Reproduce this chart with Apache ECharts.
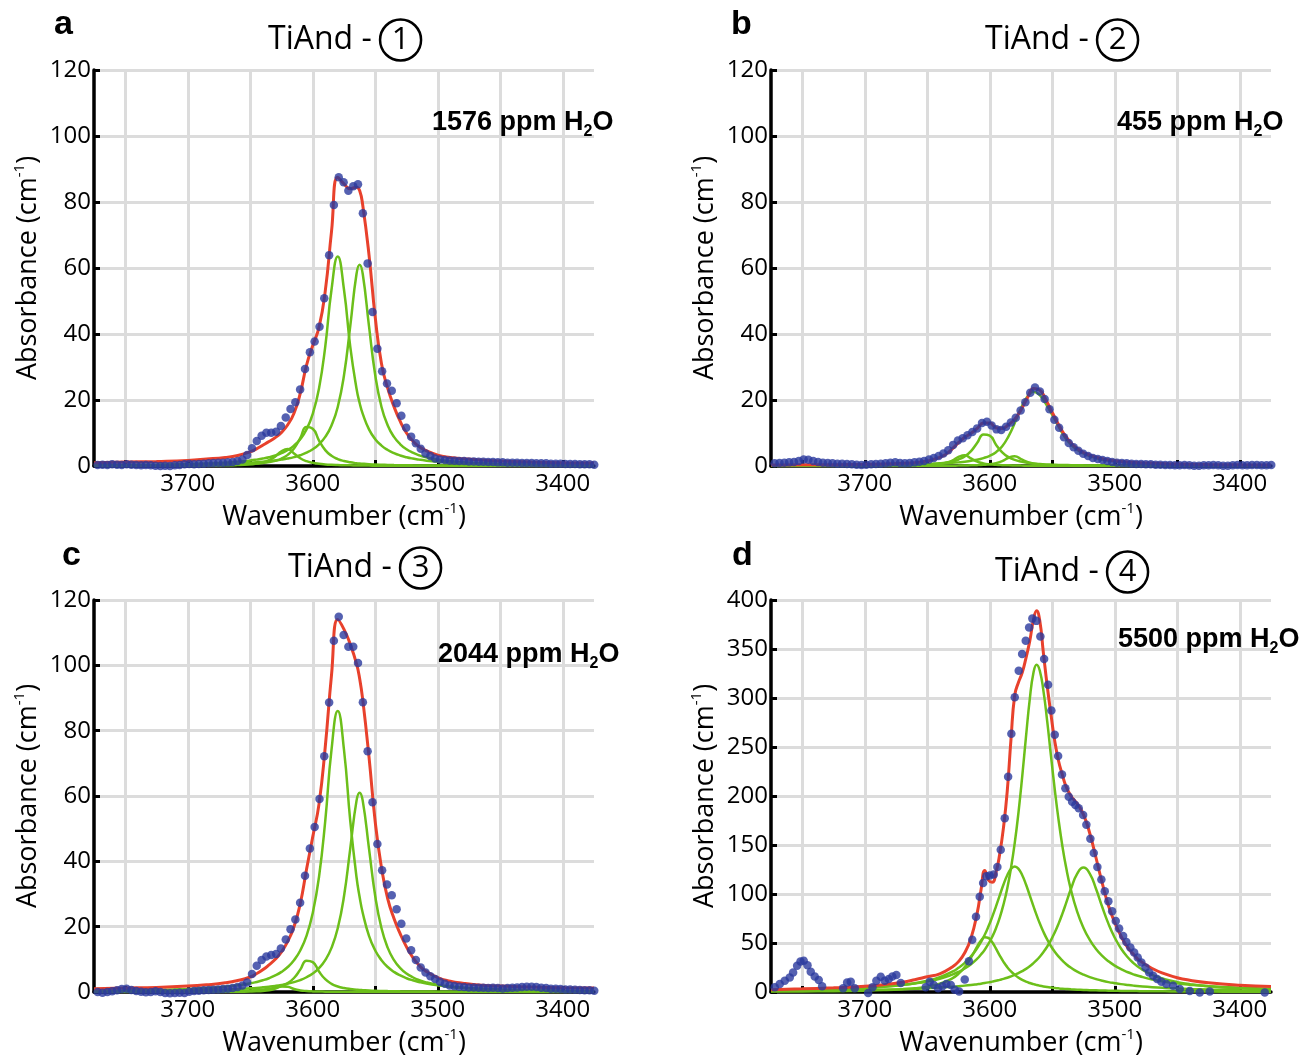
<!DOCTYPE html>
<html><head><meta charset="utf-8">
<script src="https://cdn.jsdelivr.net/npm/echarts@6/dist/echarts.min.js"></script>
<style>html,body{margin:0;padding:0;background:#fff}#c{width:1309px;height:1060px}</style>
</head><body><div id="c"></div>
<script>
// ---------------- DATA ----------------
const panelTitles = ['1', '2', '3', '4'];
const panelLetters = ['a', 'b', 'c', 'd'];
const waterLabels = ['1576', '455', '2044', '5500'];
const xTickValues = [3750, 3700, 3650, 3600, 3550, 3500, 3450, 3400];
const xLabelValues = [3700, 3600, 3500, 3400];

// measured data points (blue dots), panels a, b, c share wavenumbers
const dotWn = [3772.1, 3768.2, 3764.3, 3760.5, 3756.6, 3752.8, 3748.9, 3745.1, 3741.2, 3737.3, 3733.5, 3729.6, 3725.8, 3721.9, 3718.1, 3714.2, 3710.3, 3706.5, 3702.6, 3698.8, 3694.9, 3691.1, 3687.2, 3683.3, 3679.5, 3675.6, 3671.8, 3667.9, 3664.1, 3660.2, 3656.3, 3652.5, 3648.6, 3644.8, 3640.9, 3637.1, 3633.2, 3629.3, 3625.5, 3621.6, 3617.8, 3613.9, 3610.1, 3606.2, 3602.3, 3598.5, 3594.6, 3590.8, 3586.9, 3583.1, 3579.2, 3575.3, 3571.5, 3567.6, 3563.8, 3559.9, 3556.1, 3552.2, 3548.3, 3544.5, 3540.6, 3536.8, 3532.9, 3529.1, 3525.2, 3521.3, 3517.5, 3513.6, 3509.8, 3505.9, 3502.1, 3498.2, 3494.3, 3490.5, 3486.6, 3482.8, 3478.9, 3475.1, 3471.2, 3467.3, 3463.5, 3459.6, 3455.8, 3451.9, 3448.1, 3444.2, 3440.3, 3436.5, 3432.6, 3428.8, 3424.9, 3421.1, 3417.2, 3413.3, 3409.5, 3405.6, 3401.8, 3397.9, 3394.1, 3390.2, 3386.3, 3382.5, 3378.6, 3374.8];
const dotsA = [0.3, 0.4, 0.3, 0.5, 0.4, 0.3, 0.5, 0.4, 0.3, 0.2, 0.3, 0.2, 0.1, 0.0, 0.1, 0.0, 0.2, 0.3, 0.5, 0.6, 0.5, 0.6, 0.7, 0.8, 0.9, 1.0, 1.0, 1.1, 1.2, 1.5, 2.0, 3.3, 5.4, 7.6, 9.2, 10.1, 10.1, 10.4, 12.1, 14.7, 17.3, 19.3, 23.2, 29.4, 34.5, 37.7, 42.2, 50.8, 63.9, 79.1, 87.5, 86.0, 83.4, 84.8, 85.4, 76.6, 61.4, 46.7, 35.5, 28.7, 25.0, 22.8, 19.0, 15.2, 11.6, 8.9, 6.9, 5.2, 3.8, 3.0, 2.3, 2.0, 1.8, 1.7, 1.6, 1.5, 1.5, 1.4, 1.4, 1.3, 1.3, 1.2, 1.2, 1.1, 1.1, 1.0, 1.0, 1.0, 0.9, 0.9, 0.9, 0.8, 0.8, 0.8, 0.7, 0.7, 0.7, 0.6, 0.6, 0.6, 0.5, 0.5, 0.5, 0.4];
const dotsB = [0.8, 0.9, 1.0, 1.1, 1.2, 1.5, 2.0, 1.9, 1.5, 1.2, 1.0, 0.9, 0.8, 0.7, 0.7, 0.6, 0.5, 0.4, 0.3, 0.4, 0.5, 0.6, 0.7, 0.8, 1.0, 1.1, 0.9, 0.8, 0.9, 1.1, 1.3, 1.5, 2.0, 2.4, 3.0, 3.8, 4.8, 6.4, 7.7, 8.4, 9.3, 10.3, 11.4, 13.0, 13.4, 12.3, 11.1, 10.9, 11.9, 13.2, 14.6, 16.8, 19.3, 22.2, 23.8, 22.6, 20.3, 17.2, 14.0, 11.6, 8.7, 7.0, 5.7, 4.6, 3.7, 3.0, 2.4, 2.1, 1.8, 1.5, 1.2, 1.0, 0.9, 0.8, 0.7, 0.6, 0.6, 0.5, 0.5, 0.4, 0.4, 0.3, 0.3, 0.2, 0.2, 0.3, 0.2, 0.1, 0.1, 0.2, 0.2, 0.3, 0.2, 0.1, 0.1, 0.2, 0.3, 0.2, 0.2, 0.3, 0.3, 0.2, 0.2, 0.3];
const dotsC = [0.0, -0.2, 0.0, 0.2, 0.5, 0.9, 1.0, 0.6, 0.3, 0.1, -0.1, 0.0, 0.2, 0.0, -0.3, -0.4, -0.3, -0.2, -0.3, 0.1, 0.3, 0.4, 0.5, 0.6, 0.7, 0.8, 0.9, 1.0, 1.2, 1.5, 2.0, 2.9, 5.5, 8.0, 9.8, 10.9, 11.3, 11.6, 13.3, 16.1, 19.2, 22.2, 27.3, 35.6, 43.9, 50.5, 59.1, 72.2, 88.6, 107.5, 114.9, 109.3, 105.7, 105.7, 100.7, 88.7, 73.7, 58.1, 45.3, 37.3, 32.9, 29.6, 25.3, 20.9, 16.4, 12.8, 9.8, 7.5, 6.0, 4.8, 4.0, 3.1, 2.5, 2.0, 1.8, 1.6, 1.5, 1.4, 1.4, 1.3, 1.3, 1.2, 1.3, 1.2, 1.1, 1.2, 1.3, 1.4, 1.5, 1.6, 1.6, 1.5, 1.3, 1.2, 1.0, 1.0, 0.9, 0.8, 0.8, 0.7, 0.6, 0.5, 0.5, 0.4];
const dotWnD = [3772, 3768, 3764, 3760, 3757.3, 3754.1, 3751.4, 3748.8, 3745.8, 3743.2, 3740, 3736.8, 3734.1, 3717.3, 3714.1, 3711.2, 3708, 3697.3, 3693.8, 3690.7, 3687.2, 3684, 3680.8, 3677.9, 3674.7, 3671.2, 3651.2, 3648, 3644.8, 3641.3, 3637.9, 3634.7, 3631.2, 3628, 3624.5, 3620, 3616.7, 3614, 3611, 3608, 3605.3, 3602.7, 3600, 3596.8, 3593.9, 3591.2, 3588, 3585.3, 3582.7, 3580, 3576.8, 3574.1, 3571.2, 3568.5, 3565.9, 3562.7, 3559.5, 3556.5, 3553.3, 3550.7, 3548, 3545.3, 3542.2, 3539.5, 3536.8, 3534.1, 3531.5, 3528.8, 3525.3, 3522.7, 3519.5, 3516.8, 3513.9, 3510.7, 3508, 3505.1, 3502.1, 3499.2, 3496.5, 3493.3, 3490.7, 3487.5, 3484.5, 3481.6, 3478.7, 3475.4, 3472.5, 3469.3, 3466.1, 3462.7, 3458.7, 3453.3, 3448, 3440, 3432, 3424, 3380];
const dotsD = [4.8, 8.1, 11.5, 14.9, 20, 26.7, 31.2, 31.8, 27.4, 20.6, 15.9, 12.2, 5.8, 3.8, 9.8, 10.5, 3.8, -1, 4.8, 11.5, 15.6, 11.5, 13.2, 15.9, 17.3, 9.1, 4.8, 10.5, 7.1, 3.8, 5.8, 8.1, 7.1, 2.3, 0.5, 12.8, 31.3, 53.4, 76.7, 97.1, 111.3, 118.1, 118.8, 119.8, 127.6, 145.2, 177.3, 219.6, 263.6, 300.8, 327.9, 344.9, 358.4, 371.9, 381, 378.7, 362.8, 339.8, 313.4, 287.3, 262.6, 240.9, 222, 207.8, 199.3, 194.2, 190.9, 187.5, 180.7, 170.6, 156.3, 141.8, 127.6, 114.7, 102.8, 92.7, 82.5, 72.4, 64.7, 57.2, 51.1, 45.4, 40.3, 35.2, 30.2, 25.1, 20, 16.5, 13.2, 10.5, 8.1, 6.4, 3, 1, -0.5, 0.5, -0.5];

// fitted curves (red) and component bands (green), read at these wavenumbers
const curveWnAC = [3775, 3750, 3725, 3700, 3685, 3670, 3660, 3650, 3645, 3640, 3635, 3630, 3625, 3620, 3615, 3610, 3605, 3600, 3595, 3590, 3585, 3580, 3575, 3570, 3565, 3562.5, 3560, 3555, 3550, 3545, 3540, 3535, 3530, 3525, 3520, 3515, 3510, 3500, 3490, 3480, 3465, 3450, 3425, 3400, 3375];
const fitA = [1.0, 1.2, 1.4, 1.7, 2.1, 2.6, 3.2, 4.3, 5.2, 6.3, 7.4, 8.6, 10.2, 12.5, 16.0, 22.0, 30.5, 36.5, 42.0, 53.0, 71.0, 87.5, 85.5, 84.0, 84.5, 83.5, 79.0, 64.0, 45.0, 31.0, 23.5, 18.0, 13.5, 10.0, 7.6, 5.9, 4.8, 3.3, 2.6, 2.2, 1.8, 1.5, 1.2, 1.0, 0.9];
const bandA1 = [0.22, 0.29, 0.40, 0.58, 0.75, 1.02, 1.29, 1.67, 1.93, 2.25, 2.66, 3.19, 3.90, 4.85, 6.19, 8.13, 11.1, 15.8, 23.5, 36.2, 53.4, 63.5, 53.4, 36.2, 23.5, 19.1, 15.8, 11.1, 8.13, 6.19, 4.85, 3.90, 3.19, 2.66, 2.25, 1.93, 1.67, 1.29, 1.02, 0.83, 0.63, 0.49, 0.35, 0.26, 0.20];
const bandA2 = [0.17, 0.22, 0.29, 0.41, 0.51, 0.67, 0.81, 1.00, 1.12, 1.27, 1.45, 1.66, 1.93, 2.27, 2.70, 3.26, 4.04, 5.08, 6.58, 8.81, 12.3, 17.9, 27.5, 42.4, 58.2, 61, 58.2, 42.4, 27.5, 17.9, 12.3, 8.81, 6.58, 5.08, 4.04, 3.26, 2.70, 1.93, 1.45, 1.12, 0.81, 0.61, 0.41, 0.29, 0.22];
const bandA3 = [0.05, 0.06, 0.09, 0.14, 0.20, 0.29, 0.40, 0.58, 0.72, 0.91, 1.19, 1.60, 2.26, 3.37, 5.28, 8.45, 11.8, 11.3, 7.72, 4.82, 3.10, 2.10, 1.50, 1.12, 0.87, 0.77, 0.69, 0.56, 0.46, 0.39, 0.33, 0.28, 0.25, 0.22, 0.19, 0.17, 0.15, 0.13, 0.10, 0.09, 0.07, 0.06, 0.04, 0.03, 0.03];
const bandA4 = [0.02, 0.03, 0.05, 0.08, 0.12, 0.21, 0.32, 0.55, 0.77, 1.13, 1.76, 2.87, 4.48, 5.15, 3.82, 2.35, 1.46, 0.96, 0.67, 0.49, 0.37, 0.29, 0.23, 0.19, 0.16, 0.15, 0.14, 0.12, 0.10, 0.09, 0.08, 0.07, 0.06, 0.06, 0.05, 0.05, 0.04, 0.04, 0.03, 0.03, 0.02, 0.02, 0.02, 0.01, 0.01];

const fitC = [1.0, 1.2, 1.4, 1.8, 2.2, 2.8, 3.5, 4.6, 5.6, 6.8, 8.3, 10.0, 12.3, 15.5, 20.0, 27.0, 37.5, 47.5, 57.5, 75.0, 97.0, 114.0, 111.0, 106.5, 100.5, 96.0, 89.5, 72.0, 52.0, 38.0, 28.5, 22.5, 17.8, 13.8, 10.6, 8.2, 6.5, 4.4, 3.3, 2.7, 2.1, 1.8, 1.5, 1.3, 1.2];
const bandC1 = [0.35, 0.46, 0.63, 0.92, 1.20, 1.63, 2.05, 2.65, 3.07, 3.58, 4.22, 5.06, 6.16, 7.65, 9.73, 12.7, 17.2, 24.2, 35.2, 52.4, 74.1, 86, 74.1, 52.4, 35.2, 29.1, 24.2, 17.2, 12.7, 9.73, 7.65, 6.16, 5.06, 4.22, 3.58, 3.07, 2.65, 2.05, 1.63, 1.32, 1.00, 0.79, 0.56, 0.41, 0.32];
const bandC2 = [0.19, 0.25, 0.33, 0.46, 0.58, 0.75, 0.91, 1.13, 1.26, 1.43, 1.63, 1.87, 2.17, 2.54, 3.03, 3.65, 4.52, 5.67, 7.32, 9.76, 13.5, 19.5, 29.3, 43.9, 58.5, 61, 58.5, 43.9, 29.3, 19.5, 13.5, 9.76, 7.32, 5.67, 4.52, 3.65, 3.03, 2.17, 1.63, 1.26, 0.91, 0.69, 0.46, 0.33, 0.25];
const bandC3 = [0.04, 0.05, 0.07, 0.11, 0.16, 0.24, 0.32, 0.47, 0.58, 0.74, 0.97, 1.30, 1.83, 2.73, 4.28, 6.85, 9.57, 9.16, 6.26, 3.91, 2.51, 1.70, 1.22, 0.91, 0.71, 0.62, 0.56, 0.45, 0.37, 0.32, 0.27, 0.23, 0.20, 0.18, 0.15, 0.14, 0.12, 0.11, 0.08, 0.07, 0.06, 0.05, 0.03, 0.02, 0.02];
const bandC4 = [0.01, 0.01, 0.01, 0.02, 0.03, 0.05, 0.08, 0.15, 0.21, 0.33, 0.55, 1.02, 1.69, 1.58, 0.90, 0.49, 0.30, 0.19, 0.14, 0.10, 0.08, 0.06, 0.05, 0.04, 0.03, 0.03, 0.03, 0.02, 0.02, 0.02, 0.02, 0.01, 0.01, 0.01, 0.01, 0.01, 0.01, 0.01, 0.01, 0.01, 0.01, 0.01, 0, 0, 0];

const curveWnB = [3775, 3750, 3725, 3700, 3685, 3670, 3660, 3650, 3645, 3640, 3635, 3630, 3625, 3620, 3615, 3610, 3605, 3600, 3595, 3590, 3585, 3580, 3575, 3570, 3565, 3560, 3555, 3550, 3545, 3540, 3535, 3530, 3525, 3520, 3515, 3510, 3500, 3490, 3480, 3465, 3450, 3425, 3400, 3375];
const fitB = [0.3, 0.35, 0.4, 0.5, 0.6, 0.8, 1.0, 1.5, 2.0, 2.6, 3.6, 5.2, 7.1, 8.7, 9.9, 11.4, 13.0, 13.0, 11.6, 11.4, 12.5, 14.2, 17.0, 20.5, 23.5, 23.0, 20.0, 16.2, 12.6, 9.4, 7.0, 5.3, 4.1, 3.3, 2.7, 2.2, 1.6, 1.2, 1.0, 0.8, 0.6, 0.45, 0.35, 0.3];
const bandB1 = [0.12, 0.15, 0.2, 0.25, 0.3, 0.4, 0.5, 0.6, 0.65, 0.75, 0.85, 0.95, 1.1, 1.3, 1.6, 1.9, 2.4, 3.1, 4.2, 6.0, 9.0, 13.0, 17.5, 21.0, 22.5, 21.5, 18.8, 15.5, 12.0, 8.8, 6.5, 4.9, 3.8, 3.0, 2.4, 2.0, 1.4, 1.05, 0.8, 0.6, 0.45, 0.3, 0.22, 0.17];
const bandB2 = [0.04, 0.06, 0.08, 0.13, 0.17, 0.26, 0.35, 0.51, 0.63, 0.80, 1.05, 1.41, 1.98, 2.92, 4.52, 7.05, 9.58, 9.22, 6.47, 4.13, 2.69, 1.84, 1.32, 0.99, 0.77, 0.61, 0.49, 0.41, 0.34, 0.29, 0.25, 0.22, 0.19, 0.17, 0.15, 0.14, 0.11, 0.09, 0.08, 0.06, 0.05, 0.03, 0.03, 0.02];
const bandB3 = [0.01, 0.02, 0.02, 0.04, 0.06, 0.11, 0.17, 0.29, 0.41, 0.60, 0.96, 1.65, 2.75, 3.26, 2.29, 1.32, 0.79, 0.51, 0.35, 0.26, 0.19, 0.15, 0.12, 0.10, 0.08, 0.07, 0.06, 0.05, 0.05, 0.04, 0.04, 0.03, 0.03, 0.03, 0.03, 0.02, 0.02, 0.02, 0.02, 0.01, 0.01, 0.01, 0.01, 0.01];
const bandB4 = [0.01, 0.01, 0.01, 0.02, 0.02, 0.03, 0.04, 0.05, 0.06, 0.07, 0.08, 0.10, 0.12, 0.15, 0.20, 0.26, 0.37, 0.55, 0.88, 1.50, 2.50, 2.96, 2.08, 1.20, 0.72, 0.47, 0.32, 0.24, 0.18, 0.14, 0.11, 0.09, 0.08, 0.07, 0.06, 0.05, 0.04, 0.03, 0.03, 0.02, 0.02, 0.01, 0.01, 0.01];

const curveWnD = [3775, 3750, 3725, 3700, 3685, 3670, 3660, 3650, 3640, 3630, 3625, 3620, 3615, 3610, 3607, 3604, 3601, 3598, 3595, 3592, 3589, 3586, 3583, 3580, 3577, 3574, 3571, 3568, 3565, 3562.5, 3560, 3557, 3554, 3551, 3548, 3545, 3542, 3539, 3535, 3530, 3525, 3520, 3515, 3510, 3505, 3500, 3495, 3490, 3485, 3480, 3470, 3460, 3450, 3440, 3425, 3400, 3375];
const fitD = [2.3, 3.2, 4.3, 5.8, 7.5, 10, 12.5, 15.5, 18.5, 25.5, 31, 40, 55, 81, 104, 124, 114, 112, 122, 141, 168, 205, 258, 303, 316, 326, 341, 358, 380, 389, 379, 345, 312, 283, 256, 236, 222, 210, 200, 192, 181, 162, 137, 111, 88, 71, 57, 46, 38.5, 32, 24, 18.5, 14.5, 12, 9.5, 7, 5.5];
const bandD1 = [1.88, 2.41, 3.21, 4.46, 5.60, 7.24, 8.77, 10.8, 13.6, 17.8, 20.5, 24.0, 28.4, 34.0, 38.3, 43.2, 49.2, 56.4, 65.1, 75.9, 89.3, 105.7, 126.5, 152.1, 183.4, 220.2, 260.5, 298.7, 326, 334, 328, 306.8, 275.8, 240.8, 206.8, 176.2, 149.8, 127.7, 104, 81.7, 65.4, 53.2, 43.9, 36.9, 31.3, 26.9, 23.3, 20.4, 18.0, 16.0, 12.8, 10.5, 8.8, 7.4, 5.9, 4.3, 3.2];
const bandD2 = [1.61, 2.11, 2.88, 4.16, 5.38, 7.23, 9.01, 11.5, 15.2, 20.7, 24.7, 29.7, 36.3, 44.8, 51.1, 58.4, 67.0, 76.7, 87.4, 98.6, 109.7, 119.1, 125.7, 128, 125.7, 119.1, 109.7, 98.6, 87.4, 78.4, 70.1, 61.2, 53.4, 46.7, 41.1, 36.3, 32.2, 28.6, 24.7, 20.7, 17.7, 15.2, 13.2, 11.5, 10.1, 9.01, 8.04, 7.23, 6.51, 5.91, 4.92, 4.16, 3.57, 3.08, 2.53, 1.89, 1.46];
const bandD3 = [1.0, 1.2, 1.5, 2.0, 2.4, 2.9, 3.3, 3.8, 4.5, 5.3, 5.9, 6.5, 7.2, 8.0, 8.5, 9.1, 9.8, 10.6, 11.4, 12.4, 13.4, 14.6, 16.0, 17.5, 19.3, 21.3, 23.6, 26.3, 29.5, 32.5, 36.0, 40.8, 46.4, 53.0, 60.7, 69.5, 79.5, 90.4, 105.3, 120.8, 127, 120.8, 105.3, 86.7, 69.5, 55.4, 44.4, 36.0, 29.5, 24.5, 17.5, 13.1, 10.1, 8.0, 5.9, 3.8, 2.7];
const bandD4 = [0.45, 0.62, 0.89, 1.39, 1.93, 2.84, 3.86, 5.50, 8.36, 13.9, 18.6, 25.4, 35.0, 46.5, 52.5, 55.8, 55.1, 50.7, 44.2, 37.2, 30.8, 25.4, 21.0, 17.5, 14.7, 12.4, 10.6, 9.18, 7.99, 7.15, 6.44, 5.71, 5.09, 4.57, 4.12, 3.73, 3.39, 3.11, 2.77, 2.42, 2.13, 1.89, 1.69, 1.51, 1.37, 1.24, 1.13, 1.04, 0.95, 0.88, 0.75, 0.65, 0.57, 0.50, 0.42, 0.32, 0.26];

// ---------------- CHART ----------------
const BLUE = '#2b3a9e', RED = '#e8412c', GREEN = '#6cbf1a', GRID = '#dcdcdc';
const FONT = 'Open Sans';
const zip = (xs, ys) => xs.map((x, i) => [x, ys[i]]);

const panels = [
  {grid: {left: 94, top: 70, width: 500, height: 396}, ymax: 120, yint: 20, dx: dotWn, dy: dotsA, cx: curveWnAC, fit: fitA, bands: [bandA1, bandA2, bandA3, bandA4]},
  {grid: {left: 771, top: 70, width: 500, height: 396}, ymax: 120, yint: 20, dx: dotWn, dy: dotsB, cx: curveWnB, fit: fitB, bands: [bandB1, bandB2, bandB3, bandB4]},
  {grid: {left: 94, top: 600, width: 500, height: 393}, ymax: 120, yint: 20, dx: dotWn, dy: dotsC, cx: curveWnAC, fit: fitC, bands: [bandC1, bandC2, bandC3, bandC4]},
  {grid: {left: 771, top: 600, width: 500, height: 393}, ymax: 400, yint: 50, dx: dotWnD, dy: dotsD, cx: curveWnD, fit: fitD, bands: [bandD1, bandD2, bandD3, bandD4]}
];
const titlePos = [[268, 18], [985, 18], [288, 546], [995, 550]];
const letterPos = [[54, 6], [731, 6], [62, 537], [732, 537]];
const waterPos = [[432, 106], [1117, 106], [438, 638], [1118, 623]];

const nameRich = {sup: {fontSize: 15, lineHeight: 16, verticalAlign: 'top', fontFamily: FONT, color: '#000'}};

const option = {
  animation: false,
  backgroundColor: '#fff',
  grid: panels.map(p => p.grid),
  xAxis: panels.map((p, i) => ({
    gridIndex: i, type: 'value', inverse: true, min: 3375, max: 3775, z: 2,
    axisLine: {show: true, lineStyle: {color: '#000', width: 3.5}},
    axisTick: {show: true, inside: true, length: 6, lineStyle: {color: '#000', width: 3}, customValues: xTickValues},
    axisLabel: {show: true, customValues: xLabelValues, color: '#000', fontSize: 24, fontFamily: FONT, margin: 6, formatter: v => String(v)},
    splitLine: {show: true, lineStyle: {color: GRID, width: 3}},
    name: 'Wavenumber (cm{sup|-1})', nameLocation: 'middle', nameGap: 35,
    nameTextStyle: {fontSize: 27, fontFamily: FONT, color: '#000', lineHeight: 32, rich: nameRich}
  })),
  yAxis: panels.map((p, i) => ({
    gridIndex: i, type: 'value', min: 0, max: p.ymax, interval: p.yint, z: 1,
    axisLine: {show: true, lineStyle: {color: '#000', width: 3.5}},
    axisTick: {show: true, inside: true, length: 6, lineStyle: {color: '#000', width: 3}},
    axisLabel: {color: '#000', fontSize: 24, fontFamily: FONT, margin: 3},
    splitLine: {show: true, lineStyle: {color: GRID, width: 3}},
    name: 'Absorbance (cm{sup|-1})', nameLocation: 'middle', nameGap: 50, nameRotate: 90,
    nameTextStyle: {fontSize: 27, fontFamily: FONT, color: '#000', lineHeight: 32, rich: nameRich}
  })),
  title: [].concat(
    panels.map((p, i) => ({
      text: 'TiAnd - {c|' + panelTitles[i] + '}', left: titlePos[i][0], top: titlePos[i][1], padding: 0,
      textStyle: {fontFamily: FONT, fontSize: 32, fontWeight: 'normal', color: '#000', lineHeight: 44,
        rich: {c: {fontFamily: FONT, fontSize: 31, color: '#000', width: 41, height: 41, lineHeight: 41, align: 'center', verticalAlign: 'middle', borderColor: '#000', borderWidth: 2.5, borderRadius: 21}}}
    })),
    panels.map((p, i) => ({
      text: panelLetters[i], left: letterPos[i][0], top: letterPos[i][1], padding: 0,
      textStyle: {fontFamily: 'Liberation Sans', fontSize: 34, fontWeight: 'bold', color: '#000', lineHeight: 38}
    })),
    panels.map((p, i) => ({
      text: waterLabels[i] + ' ppm H{sub|2}O', left: waterPos[i][0], top: waterPos[i][1], padding: 0,
      textStyle: {fontFamily: 'Liberation Sans', fontSize: 27, fontWeight: 'bold', color: '#000', lineHeight: 34,
        rich: {sub: {fontFamily: 'Liberation Sans', fontSize: 16, fontWeight: 'bold', color: '#000', lineHeight: 18, verticalAlign: 'bottom'}}}
    }))
  ),
  series: []
};

panels.forEach((p, i) => {
  p.bands.forEach(b => option.series.push({
    type: 'line', xAxisIndex: i, yAxisIndex: i, data: zip(p.cx, b), smooth: 0.5,
    symbol: 'none', lineStyle: {color: GREEN, width: 2.5}, z: 5, silent: true
  }));
  option.series.push({
    type: 'line', xAxisIndex: i, yAxisIndex: i, data: zip(p.cx, p.fit), smooth: 0.5,
    symbol: 'none', lineStyle: {color: RED, width: 3}, z: 6, silent: true
  });
  option.series.push({
    type: 'scatter', xAxisIndex: i, yAxisIndex: i, data: zip(p.dx, p.dy), clip: false,
    symbol: 'circle', symbolSize: 8.5, itemStyle: {color: BLUE}, z: 7, silent: true
  });
});

const chart = echarts.init(document.getElementById('c'), null, {renderer: 'canvas'});
chart.setOption(option);
</script></body></html>
